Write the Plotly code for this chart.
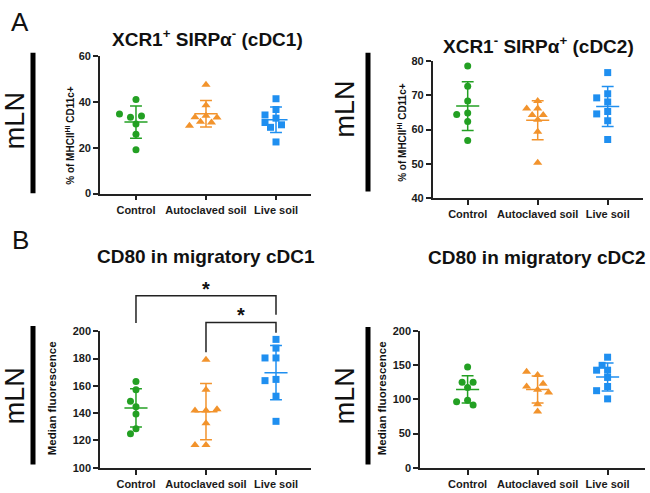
import math
import numpy as np
import plotly.graph_objects as go

W, H = 650, 493
groups = ["Control", "Autoclaved soil", "Live soil"]
colors = ["#23a023", "#f2932c", "#1f8ff0"]
symbols = ["circle", "triangle-up", "square"]

# Panel A1: XCR1+ SIRPa- (cDC1), % of MHCII-hi CD11c+
a1_control = [41.2, 34.8, 34.0, 33.4, 30.4, 26.0, 19.2]
a1_autoclaved = [47.6, 38.7, 34.1, 33.4, 33.3, 31.4, 31.1, 29.7]
a1_live = [41.5, 36.8, 34.4, 33.0, 31.1, 30.1, 29.0, 22.6]

# Panel A2: XCR1- SIRPa+ (cDC2)
a2_control = [78.6, 72.7, 68.4, 64.9, 64.4, 62.4, 56.8]
a2_autoclaved = [68.4, 66.2, 66.2, 64.3, 64.3, 62.9, 59.4, 50.3]
a2_live = [76.7, 70.5, 69.3, 68.1, 65.3, 64.6, 62.6, 57.1]

# Panel B1: CD80 in migratory cDC1, median fluorescence
b1_control = [163.1, 157.1, 148.8, 144.7, 139.3, 128.6, 125.0]
b1_autoclaved = [179.0, 157.1, 142.9, 141.9, 141.9, 132.6, 116.6, 116.6]
b1_live = [194.0, 187.6, 180.4, 180.4, 164.7, 163.8, 152.4, 134.0]

# Panel B2: CD80 in migratory cDC2
b2_control = [147.6, 125.1, 125.1, 117.6, 99.0, 96.6, 91.9]
b2_autoclaved = [140.5, 135.7, 122.9, 119.0, 114.3, 110.4, 92.9, 82.3]
b2_live = [161.9, 150.0, 142.9, 142.9, 132.3, 119.0, 112.9, 100.9]

a1_ticks = [0, 20, 40, 60]
a2_ticks = [40, 50, 60, 70, 80]
b1_ticks = [100, 120, 140, 160, 180, 200]
b2_ticks = [0, 50, 100, 150, 200]

titles = ["XCR1<sup>+</sup> SIRPα<sup>-</sup> (cDC1)",
          "XCR1<sup>-</sup> SIRPα<sup>+</sup> (cDC2)",
          "CD80 in migratory cDC1",
          "CD80 in migratory cDC2"]
ytitles = ["% of MHCII<sup>Hi</sup> CD11c+", "% of MHCII<sup>Hi</sup> CD11c+",
           "Median fluorescence", "Median fluorescence"]

FONT = "Liberation Sans, Arial, Helvetica, sans-serif"

# panel geometry in pixels
panels = [
    dict(x0=100, x1=311, yt=51.7, yb=192.3, xr=(-0.514, 2.5), yr=(0, 60), ticks=a1_ticks,
         data=[a1_control, a1_autoclaved, a1_live]),
    dict(x0=432.7, x1=642.7, yt=56.7, yb=196.7, xr=(-0.5, 2.5), yr=(40, 80), ticks=a2_ticks,
         data=[a2_control, a2_autoclaved, a2_live]),
    dict(x0=100, x1=311, yt=333.3, yb=473.3, xr=(-0.514, 2.5), yr=(100, 200), ticks=b1_ticks,
         data=[b1_control, b1_autoclaved, b1_live]),
    dict(x0=420, x1=644.7, yt=333.3, yb=473.3, xr=(-0.68, 2.53), yr=(0, 200), ticks=b2_ticks,
         data=[b2_control, b2_autoclaved, b2_live]),
]


def swarm(vals, ppu_y, ppu_x, d=7.2, step=5.5):
    vals = list(vals)
    m = float(np.mean(vals))
    order = sorted(range(len(vals)), key=lambda i: abs(vals[i] - m))
    placed = []
    offs = [0.0] * len(vals)
    cands = [0.0]
    for k in range(1, 8):
        cands += [-k * step, k * step]
    for i in order:
        y = vals[i] * ppu_y
        for c in cands:
            if all((c - px) ** 2 + (y - py) ** 2 >= d * d for px, py in placed):
                break
        placed.append((c, y))
        offs[i] = c / ppu_x
    return offs


fig = go.Figure()
layout = dict(width=W, height=H, margin=dict(l=0, r=0, t=0, b=0),
              paper_bgcolor="white", plot_bgcolor="white", showlegend=False,
              font=dict(family=FONT, color="#222"))
annotations = []
shapes = []

for p_i, p in enumerate(panels):
    n = "" if p_i == 0 else str(p_i + 1)
    xa, ya = "x" + n, "y" + n
    xd = [p["x0"] / W, p["x1"] / W]
    yd = [1 - p["yb"] / H, 1 - p["yt"] / H]
    ppu_x = (p["x1"] - p["x0"]) / (p["xr"][1] - p["xr"][0])
    ppu_y = (p["yb"] - p["yt"]) / (p["yr"][1] - p["yr"][0])
    axcommon = dict(showline=True, linecolor="#222", linewidth=1.6, ticks="outside",
                    ticklen=5, tickwidth=1.6, tickcolor="#222", showgrid=False, zeroline=False,
                    tickfont=dict(family=FONT, size=11, color="#1a1a1a", weight="bold"))
    layout["xaxis" + n] = dict(domain=xd, range=list(p["xr"]), tickvals=[0, 1, 2],
                               ticktext=groups, anchor=ya, **axcommon)
    layout["yaxis" + n] = dict(domain=yd, range=list(p["yr"]), tickvals=p["ticks"],
                               anchor=xa, **axcommon)
    for g, vals in enumerate(p["data"]):
        offs = swarm(vals, ppu_y, ppu_x)
        fig.add_trace(go.Scatter(
            x=[g + o for o in offs], y=vals, mode="markers", xaxis=xa, yaxis=ya,
            marker=dict(symbol=symbols[g], color=colors[g], size=7 if g != 1 else 8,
                        line=dict(width=0)), cliponaxis=False, hoverinfo="skip"))
        m = float(np.mean(vals))
        sd = float(np.std(vals, ddof=1))
        hw, cw = 0.165, 0.085
        ex = [g - hw, g + hw, None, g, g, None, g - cw, g + cw, None, g - cw, g + cw]
        ey = [m, m, None, m - sd, m + sd, None, m + sd, m + sd, None, m - sd, m - sd]
        fig.add_trace(go.Scatter(x=ex, y=ey, mode="lines", xaxis=xa, yaxis=ya,
                                 line=dict(color=colors[g], width=1.5), hoverinfo="skip"))

# titles
title_pos = [(207, 33), (538, 40), (206, 257), (537, 258)]
for t, (x, y) in zip(titles, title_pos):
    annotations.append(dict(text=t, x=x / W, y=1 - y / H, xref="paper", yref="paper",
                            showarrow=False, xanchor="center", yanchor="middle",
                            font=dict(family=FONT, size=19, color="#111", weight="bold")))
# y-axis titles
yt_pos = [(70, 133, 10), (402, 130, 10), (52, 402, 11.5), (382, 402, 11.5)]
for t, (x, y, s) in zip(ytitles, yt_pos):
    annotations.append(dict(text=t, x=x / W, y=1 - y / H, xref="paper", yref="paper",
                            showarrow=False, textangle=-90, xanchor="center", yanchor="middle",
                            font=dict(family=FONT, size=s, color="#111", weight="bold")))
# panel letters
for t, (x, y) in zip(["A", "B"], [(20, 16), (20, 240)]):
    annotations.append(dict(text=t, x=x / W, y=1 - y / H, xref="paper", yref="paper",
                            showarrow=False, xanchor="center", yanchor="middle",
                            font=dict(family=FONT, size=26, color="#111")))
# mLN labels and bars
for (x, y) in [(15, 118), (345, 106), (15, 400), (345, 400)]:
    annotations.append(dict(text="mLN", x=x / W, y=1 - y / H, xref="paper", yref="paper",
                            showarrow=False, textangle=-90, xanchor="center", yanchor="middle",
                            font=dict(family=FONT, size=27, color="#111")))
for (x, y0, y1) in [(33, 48, 192), (368, 48, 190), (33, 328, 470), (368, 329, 470)]:
    shapes.append(dict(type="line", xref="paper", yref="paper", x0=x / W, x1=x / W,
                       y0=1 - y0 / H, y1=1 - y1 / H, line=dict(color="black", width=5)))

# significance brackets on panel B1
p = panels[2]


def bx(i):
    return (p["x0"] + (i - p["xr"][0]) * (p["x1"] - p["x0"]) / (p["xr"][1] - p["xr"][0])) / W


def by(v):
    ppu = (p["yb"] - p["yt"]) / (p["yr"][1] - p["yr"][0])
    return 1 - (p["yb"] - (v - p["yr"][0]) * ppu) / H


brackets = [(0, 2, 226, 206, 212), (1, 2, 206.4, 184.5, 198.8)]
for (a, b, top, la, rb) in brackets:
    shapes.append(dict(type="path", xref="paper", yref="paper",
                       path=f"M {bx(a)},{by(la)} L {bx(a)},{by(top)} L {bx(b)},{by(top)} L {bx(b)},{by(rb)}",
                       line=dict(color="#222", width=1.5)))
    annotations.append(dict(text="*", x=(bx(a) + bx(b)) / 2, y=by(top), xref="paper", yref="paper",
                            showarrow=False, xanchor="center", yanchor="bottom", yshift=-6,
                            font=dict(family=FONT, size=20, color="#111", weight="bold")))

layout["annotations"] = annotations
layout["shapes"] = shapes
fig.update_layout(**layout)
fig.write_html("out.html")
